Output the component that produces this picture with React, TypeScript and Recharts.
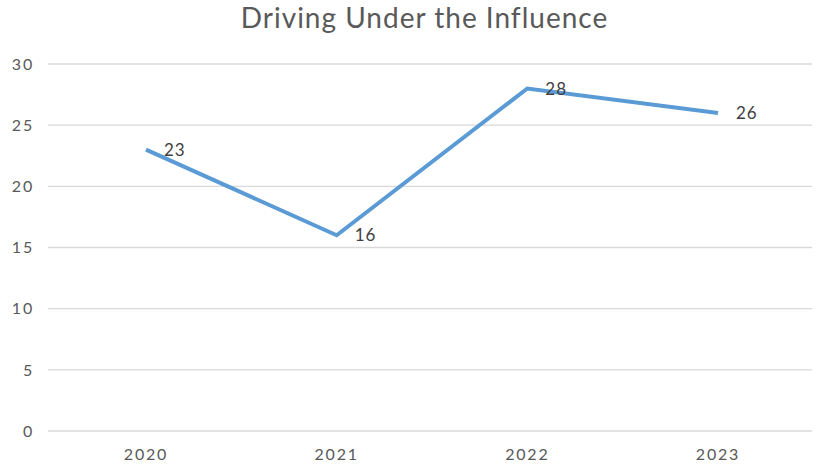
import { CartesianGrid, LabelList, Line, LineChart, XAxis, YAxis } from "recharts";

const years = ["2020", "2021", "2022", "2023"];
const cases = [23, 16, 28, 26];
const yTicks = [0, 5, 10, 15, 20, 25, 30];

const data = years.map((year, i) => ({ year, cases: cases[i] }));

const font = "Lato, 'Open Sans', sans-serif";
const tickStyle = { fontSize: 16, fill: "#595959", fontFamily: font, letterSpacing: 1.8 };

export default function App() {
  return (
    <div
      style={{
        position: "absolute",
        left: 0,
        top: 0,
        width: 817,
        height: 466,
        background: "#fff",
        fontFamily: font,
      }}
    >
      <div
        style={{
          position: "absolute",
          top: 0,
          left: 16,
          width: 817,
          textAlign: "center",
          fontSize: 28,
          letterSpacing: 1,
          color: "#595959",
        }}
      >
        Driving Under the Influence
      </div>
      <LineChart
        width={817}
        height={466}
        data={data}
        margin={{ top: 64, right: 5, left: 0, bottom: 0 }}
      >
        <CartesianGrid vertical={false} stroke="#d9d9d9" strokeWidth={1.3} />
        <XAxis
          dataKey="year"
          axisLine={false}
          tickLine={false}
          height={35}
          padding={{ left: 98, right: 94 }}
          tickMargin={12}
          tick={tickStyle}
        />
        <YAxis
          width={48}
          domain={[0, 30]}
          ticks={yTicks}
          axisLine={false}
          tickLine={false}
          tickMargin={8}
          tick={tickStyle}
        />
        <Line
          type="linear"
          dataKey="cases"
          stroke="#5b9bd5"
          strokeWidth={4}
          dot={false}
          isAnimationActive={false}
        >
          <LabelList
            dataKey="cases"
            position="right"
            offset={18}
            style={{ fontSize: 17, fill: "#404040", fontFamily: font, letterSpacing: 1 }}
          />
        </Line>
      </LineChart>
    </div>
  );
}
